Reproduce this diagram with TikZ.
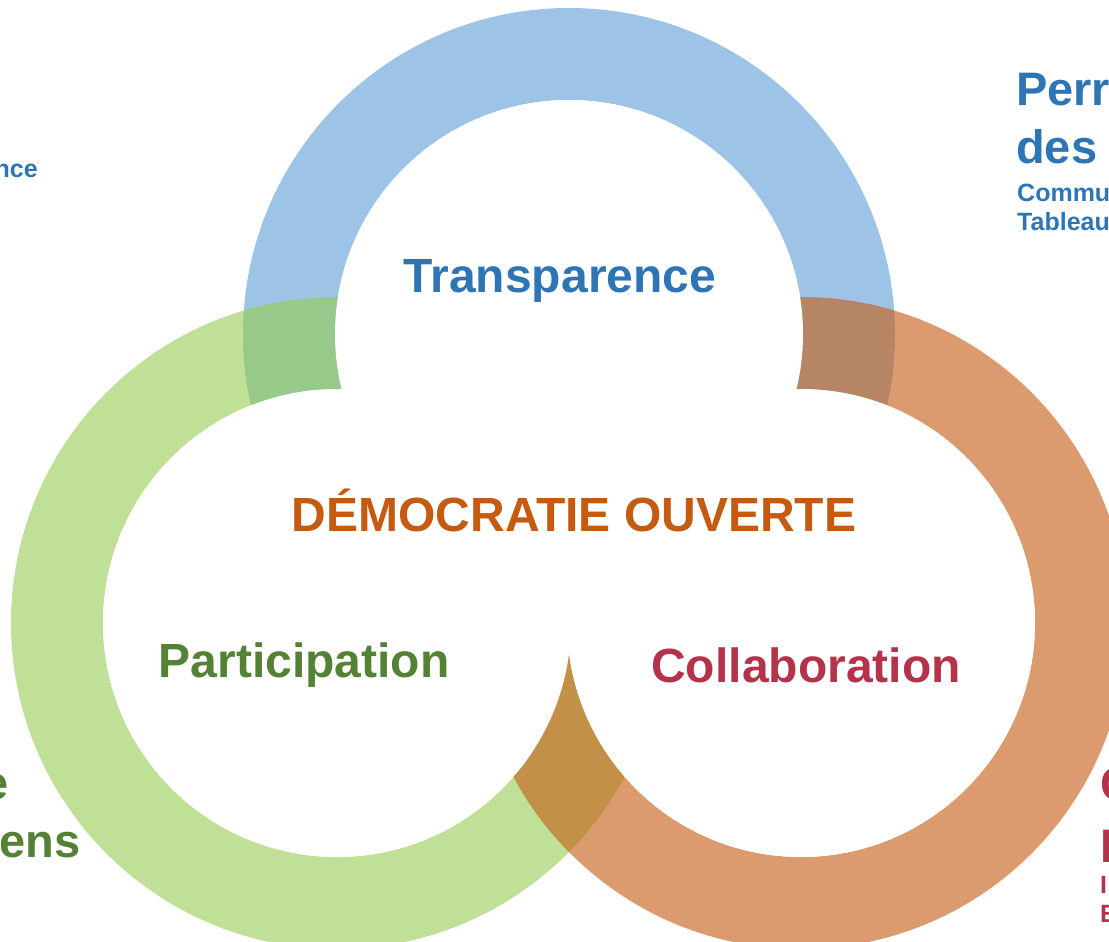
\documentclass[tikz,border=0pt]{standalone}
\usepackage{fontspec}
\setmainfont{Liberation Sans}
\definecolor{ringB}{HTML}{9DC3E6}
\definecolor{ringG}{HTML}{BFE096}
\definecolor{ringO}{HTML}{DC9B6E}
\definecolor{ovBG}{HTML}{96C98A}
\definecolor{ovBO}{HTML}{B58565}
\definecolor{ovGO}{HTML}{C29046}
\definecolor{txtB}{HTML}{2E75B6}
\definecolor{txtO}{HTML}{C55A11}
\definecolor{txtG}{HTML}{548235}
\definecolor{txtR}{HTML}{B4334A}
\tikzset{
  mainlabel/.style={font=\fontsize{48}{57}\selectfont\bfseries, inner sep=0pt, anchor=base},
  sidetitle/.style={font=\fontsize{47}{56}\selectfont\bfseries, inner sep=0pt, anchor=base west},
  sidesmall/.style={font=\fontsize{25}{30}\selectfont\bfseries, inner sep=0pt, anchor=base west},
}
\begin{document}
\begin{tikzpicture}[x=1pt,y=-1pt]
\useasboundingbox (0,0) rectangle (1109,942);
\clip (0,0) rectangle (1109,942);
\coordinate (cb) at (569,334);
\coordinate (cg) at (337,623);
\coordinate (co) at (801,623);
% rings
\begin{scope}
  \clip (0,0) rectangle (1109,600);
  \fill[ringB, even odd rule] (cb) circle[radius=326pt] (cb) circle[radius=234pt];
\end{scope}
\fill[ringG, even odd rule] (cg) circle[radius=326pt] (cg) circle[radius=234pt];
\fill[ringO, even odd rule] (co) circle[radius=326pt] (co) circle[radius=234pt];
% overlaps
\begin{scope}
  \clip (0,0) rectangle (1109,600);
  \clip (cb) circle[radius=326pt];
  \fill[ovBG, even odd rule] (cg) circle[radius=326pt] (cg) circle[radius=234pt];
  \fill[ovBO, even odd rule] (co) circle[radius=326pt] (co) circle[radius=234pt];
\end{scope}
\begin{scope}
  \clip (cg) circle[radius=326pt];
  \fill[ovGO, even odd rule] (co) circle[radius=326pt] (co) circle[radius=234pt];
\end{scope}
% white interiors
\fill[white] (cb) circle[radius=234pt] (cg) circle[radius=234pt] (co) circle[radius=234pt];
\fill[white] (569,578) circle[radius=45pt];
% main labels
\node[mainlabel, text=txtB] (trans) at (560,292) {Transparence};
\node[mainlabel, text=txtO] (demo) at (574,531) {DÉMOCRATIE OUVERTE};
\node[mainlabel, text=txtG] (part) at (304,677) {Participation};
\node[mainlabel, text=txtR] (coll) at (806,682) {Collaboration};
% cut-off side texts
\node[sidesmall, text=txtB, anchor=base east] (nce) at (38,177) {nce};
\node[sidetitle, text=txtB] (perr) at (1016,106) {Perr};
\node[sidetitle, text=txtB] (des) at (1016,163) {des};
\node[sidesmall, text=txtB] (commu) at (1017,201) {Commu};
\node[sidesmall, text=txtB] (tabl) at (1017,230) {Tableau};
\node[sidetitle, text=txtG, anchor=base east] (e1) at (9,799) {e};
\node[sidetitle, text=txtG, anchor=base east] (ens) at (81,857) {ens};
\node[sidetitle, text=txtR] (c1) at (1100,800) {C};
\node[sidetitle, text=txtR] (i1) at (1100,862) {I};
\node[sidesmall, text=txtR] (i2) at (1100,893) {I};
\node[sidesmall, text=txtR] (e2) at (1100,922) {E};
\end{tikzpicture}
\end{document}
